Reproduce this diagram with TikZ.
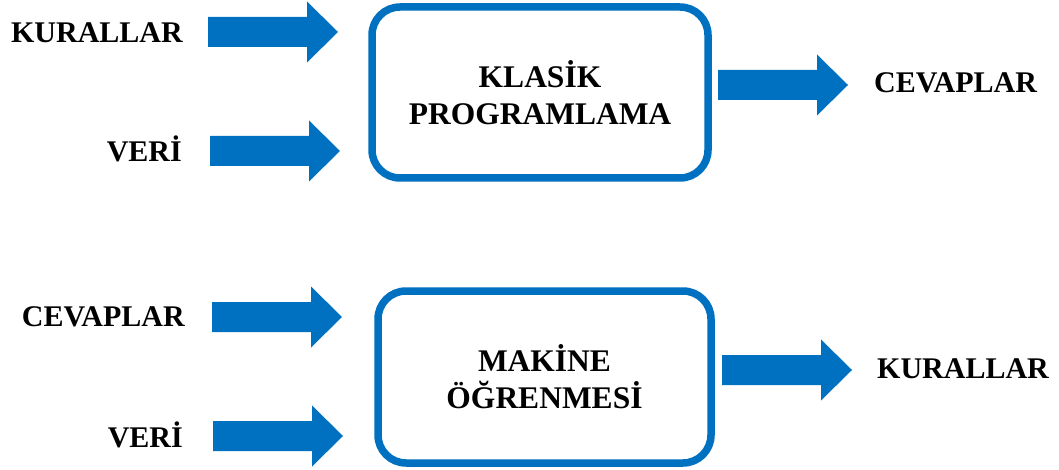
\documentclass[tikz,border=0pt]{standalone}
\usepackage{fontspec}
\setmainfont{Liberation Serif}
\definecolor{flowblue}{HTML}{0070C0}
\tikzset{
  lbl/.style={inner sep=0pt, font=\fontsize{30}{37}\selectfont\bfseries},
  procbox/.style={draw=flowblue, line width=7.5pt, rounded corners=28pt,
    fill=white, align=center, inner sep=0pt,
    font=\fontsize{31.5}{37}\selectfont\bfseries},
  pics/barrow/.style={code={
    \fill[flowblue] (0,-15) -- (99,-15) -- (99,-30.5) -- (130,0)
      -- (99,30.5) -- (99,15) -- (0,15) -- cycle;
  }}
}
\begin{document}
\begin{tikzpicture}[x=1pt,y=-1pt]
  \useasboundingbox (0,0) rectangle (1059,470);

  % classical programming
  \node[procbox, minimum width=336pt, minimum height=171pt] (klasik) at (540,92.5)
    {KLASİK\\PROGRAMLAMA};
  \node[lbl, anchor=base east] (kur1) at (183,43) {KURALLAR};
  \node[lbl, anchor=base east] (veri1) at (182,162) {VERİ};
  \node[lbl, anchor=base west] (cev1) at (874,93) {CEVAPLAR};
  \pic at (208,32) {barrow};
  \pic at (210,151) {barrow};
  \pic at (718,85) {barrow};

  % machine learning
  \node[procbox, minimum width=333pt, minimum height=172pt] (makine) at (544.5,377)
    {MAKİNE\\ÖĞRENMESİ};
  \node[lbl, anchor=base east] (cev2) at (185,326) {CEVAPLAR};
  \node[lbl, anchor=base east] (veri2) at (183,447) {VERİ};
  \node[lbl, anchor=base west] (kur2) at (877,378) {KURALLAR};
  \pic at (212,317) {barrow};
  \pic at (213,436) {barrow};
  \pic at (722,370) {barrow};
\end{tikzpicture}
\end{document}
